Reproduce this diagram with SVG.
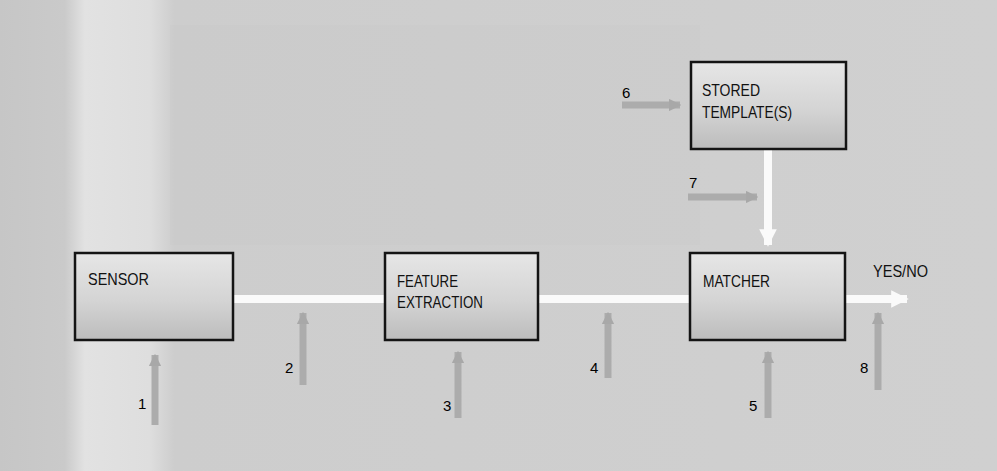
<svg xmlns="http://www.w3.org/2000/svg" width="997" height="471" viewBox="0 0 997 471">
<defs>
<linearGradient id="boxfill" x1="0" y1="0" x2="0" y2="1">
<stop offset="0" stop-color="#e6e6e6"/>
<stop offset="0.55" stop-color="#d4d4d4"/>
<stop offset="1" stop-color="#bcbcbc"/>
</linearGradient>
<linearGradient id="bg" x1="0" y1="0" x2="1" y2="0">
<stop offset="0" stop-color="#c6c6c6"/>
<stop offset="0.065" stop-color="#cacaca"/>
<stop offset="0.085" stop-color="#e2e2e2"/>
<stop offset="0.15" stop-color="#dedede"/>
<stop offset="0.175" stop-color="#cdcdcd"/>
<stop offset="1" stop-color="#d0d0d0"/>
</linearGradient>
<marker id="wh" viewBox="0 0 10 10" refX="9" refY="5" markerWidth="2.2" markerHeight="2.2" orient="auto" markerUnits="strokeWidth">
<path d="M0,0 L10,5 L0,10 z" fill="#fafafa"/>
</marker>
<marker id="gh" viewBox="0 0 10 10" refX="9" refY="5" markerWidth="1.8" markerHeight="1.8" orient="auto" markerUnits="strokeWidth">
<path d="M0,0 L10,5 L0,10 z" fill="#a8a8a8"/>
</marker>
</defs>
<style>
.box{fill:url(#boxfill);stroke:#141414;stroke-width:2.5}
.lbl{font-family:"Liberation Sans",Arial,sans-serif;font-size:17px;fill:#111}
.num{font-family:"Liberation Sans",Arial,sans-serif;font-size:15px;fill:#000}
.wire{stroke:#fafafa;stroke-width:8;fill:none}
.atk{stroke:#acacac;stroke-width:7;fill:none}
</style>
<rect x="0" y="0" width="997" height="471" fill="url(#bg)"/>
<rect x="170" y="25" width="530" height="220" fill="#c8c8c8" opacity="0.35"/>
<g id="connectors">
<line class="wire" x1="233" y1="299" x2="385" y2="299"/>
<line class="wire" x1="538" y1="299" x2="690" y2="299"/>
<line class="wire" x1="845" y1="299" x2="907" y2="299" marker-end="url(#wh)"/>
<line class="wire" x1="768" y1="149" x2="768" y2="245" marker-end="url(#wh)"/>
<line class="atk" x1="155" y1="425" x2="155" y2="355" marker-end="url(#gh)"/>
<line class="atk" x1="303" y1="385" x2="303" y2="313" marker-end="url(#gh)"/>
<line class="atk" x1="458" y1="418" x2="458" y2="352" marker-end="url(#gh)"/>
<line class="atk" x1="608" y1="378" x2="608" y2="313" marker-end="url(#gh)"/>
<line class="atk" x1="768" y1="418" x2="768" y2="352" marker-end="url(#gh)"/>
<line class="atk" x1="878" y1="390" x2="878" y2="313" marker-end="url(#gh)"/>
<line class="atk" x1="622" y1="105" x2="680" y2="105" marker-end="url(#gh)"/>
<line class="atk" x1="688" y1="197" x2="757" y2="197" marker-end="url(#gh)"/>
<text class="num" x="138" y="409">1</text>
<text class="num" x="285" y="373">2</text>
<text class="num" x="443" y="411">3</text>
<text class="num" x="590" y="373">4</text>
<text class="num" x="749" y="411">5</text>
<text class="num" x="622" y="98">6</text>
<text class="num" x="689" y="188">7</text>
<text class="num" x="860" y="373">8</text>
<text class="lbl" x="873" y="277" textLength="55" lengthAdjust="spacingAndGlyphs">YES/NO</text>
</g>
<g id="sensor">
<rect class="box" x="75" y="253" width="158" height="87"/>
<text class="lbl" x="88" y="285" textLength="61" lengthAdjust="spacingAndGlyphs">SENSOR</text>
</g>
<g id="feature-extraction">
<rect class="box" x="385" y="253" width="153" height="87"/>
<text class="lbl" x="397" y="287" textLength="61" lengthAdjust="spacingAndGlyphs">FEATURE</text>
<text class="lbl" x="397" y="308" textLength="86" lengthAdjust="spacingAndGlyphs">EXTRACTION</text>
</g>
<g id="matcher">
<rect class="box" x="690" y="253" width="155" height="87"/>
<text class="lbl" x="703" y="287" textLength="67" lengthAdjust="spacingAndGlyphs">MATCHER</text>
</g>
<g id="stored-templates">
<rect class="box" x="691" y="62" width="155" height="87"/>
<text class="lbl" x="702" y="96" textLength="58" lengthAdjust="spacingAndGlyphs">STORED</text>
<text class="lbl" x="702" y="118" textLength="90" lengthAdjust="spacingAndGlyphs">TEMPLATE(S)</text>
</g>
</svg>
